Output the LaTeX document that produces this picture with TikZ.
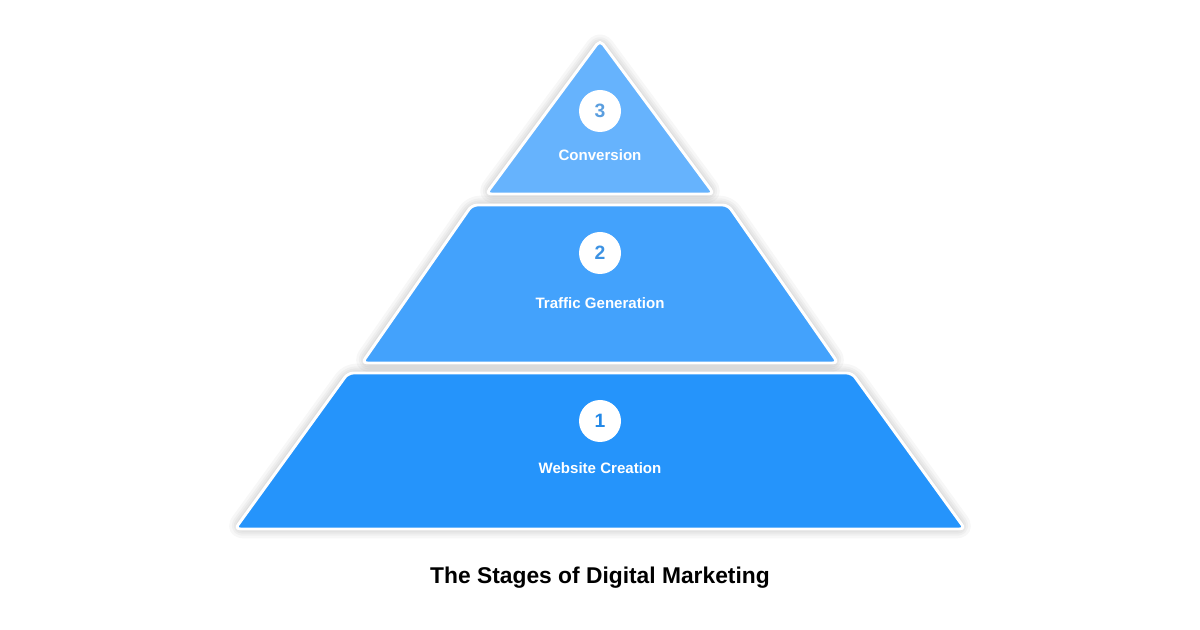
\documentclass[tikz,border=0pt]{standalone}
\usepackage{fontspec}
\setmainfont{Liberation Sans}
\begin{document}
\begin{tikzpicture}[x=0.75pt,y=-0.75pt,
  shade1/.style={draw=black,opacity=0.03,line width=#1,line join=round},
  tier/.style={fill=#1,draw=white,line width=2.2pt,rounded corners=4pt,line join=round},
  numcirc/.style={circle,fill=white,minimum size=31.5pt,inner sep=0pt,text=#1,font=\bfseries\fontsize{14.5}{16}\selectfont},
  lbl/.style={text=white,font=\bfseries\fontsize{11.3}{13}\selectfont},
  title/.style={text=black,font=\bfseries\fontsize{17.1}{20}\selectfont}]
\definecolor{cTop}{HTML}{66B3FD}
\definecolor{cMid}{HTML}{43A2FC}
\definecolor{cBot}{HTML}{2594FB}
\useasboundingbox (0,0) rectangle (1200,630);
\fill[white] (0,0) rectangle (1200,630);
% shadows
\foreach \w in {14,10,7,4}{
  \draw[shade1=\w pt,rounded corners=6pt] (600,40) -- (714,194) -- (486,194) -- cycle;
  \draw[shade1=\w pt,rounded corners=6pt] (472,205) -- (728,205) -- (838,363) -- (362,363) -- cycle;
  \draw[shade1=\w pt,rounded corners=6pt] (348,373) -- (852,373) -- (965,529) -- (235,529) -- cycle;
}
% tiers
\path[tier=cTop] (600,40) -- (714,194) -- (486,194) -- cycle;
\path[tier=cMid] (472,205) -- (728,205) -- (838,363) -- (362,363) -- cycle;
\path[tier=cBot] (348,373) -- (852,373) -- (965,529) -- (235,529) -- cycle;
% numbers
\node[numcirc=cTop!88!black] (n3) at (600,111) {3};
\node[numcirc=cMid!90!black] (n2) at (600,253) {2};
\node[numcirc=cBot!92!black] (n1) at (600,421) {1};
% labels
\node[lbl] (l3) at (600,155) {Conversion};
\node[lbl] (l2) at (600,303) {Traffic Generation};
\node[lbl] (l1) at (600,468) {Website Creation};
\node[title] (t) at (600,578) {The Stages of Digital Marketing};
\end{tikzpicture}
\end{document}
